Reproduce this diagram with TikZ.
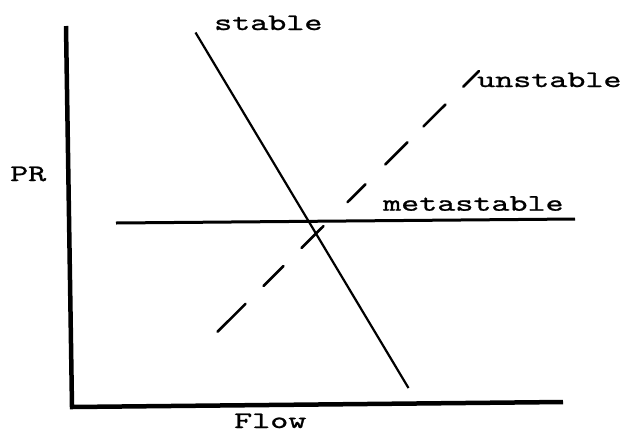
\documentclass[tikz,border=0pt]{standalone}
\usepackage{fontspec}
\newfontfamily\tw{lmmono10-regular.otf}[FakeStretch=1.45,FakeBold=1]
\begin{document}
\begin{tikzpicture}[x=1pt,y=-1pt,
  lbl/.style={inner sep=0pt,anchor=base west,
    font=\tw\fontsize{23.7}{24}\selectfont},
  axisline/.style={line width=4.5pt,line join=miter,line cap=butt},
  stableline/.style={line width=2.2pt},
  metaline/.style={line width=3pt},
  unstableline/.style={line width=2.6pt,line cap=round,
    dash pattern=on 39.5pt off 25.4pt on 28.1pt off 25.5pt on 31.1pt off 33.8pt on 25.5pt off 28.1pt on 31.1pt off 22.6pt on 31pt off 25.3pt on 22.6pt off 40pt}]
\useasboundingbox (0,0) rectangle (624,432);
% axes
\coordinate (ytop) at (66,26);
\coordinate (origin) at (72,407);
\coordinate (xend) at (563,402);
\draw[axisline] (ytop) -- (origin) -- (xend);
% lines
\coordinate (s1) at (195.5,32.5);
\coordinate (s2) at (408.5,388);
\draw[stableline] (s1) -- (s2);
\coordinate (m1) at (116,223);
\coordinate (m2) at (575,219);
\draw[metaline] (m1) -- (m2);
\coordinate (u1) at (217.6,331.7);
\coordinate (u2) at (479,71);
\draw[unstableline] (u1) -- (u2);
% labels
\node[lbl] (lstable) at (214,30) {stable};
\node[lbl] (lunstable) at (477,87) {unstable};
\node[lbl] (lmeta) at (383,210.7) {metastable};
\node[lbl] (lpr) at (10,181) {PR};
\node[lbl] (lflow) at (234,428) {Flow};
\end{tikzpicture}
\end{document}
